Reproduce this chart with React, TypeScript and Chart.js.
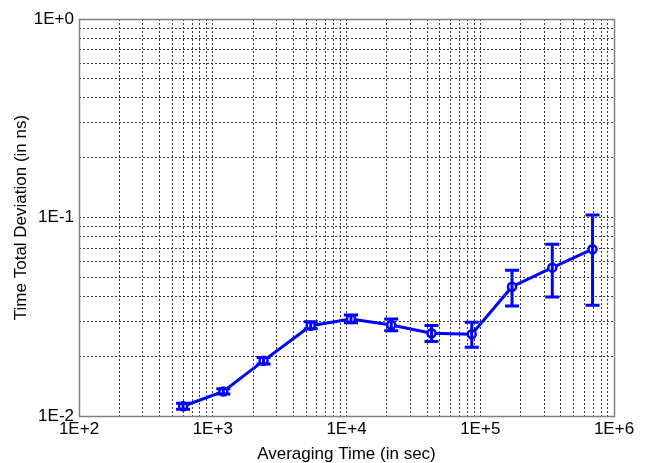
import React, { useEffect, useRef } from "react";
import { Chart, registerables } from "chart.js";

Chart.register(...registerables);

const tau = [600, 1200, 2400, 5400, 10800, 21600, 43200, 86400, 172800, 345600, 691200];
const tdev = [0.0112, 0.0133, 0.019, 0.0285, 0.0308, 0.02875, 0.0261, 0.0258, 0.0448, 0.0559, 0.0692];
const tdevHigh = [0.0116, 0.0137, 0.0197, 0.0298, 0.0323, 0.0308, 0.0286, 0.0297, 0.0542, 0.0733, 0.1029];
const tdevLow = [0.0108, 0.0129, 0.0183, 0.0275, 0.0295, 0.0269, 0.0237, 0.0222, 0.0358, 0.0398, 0.0361];

const xTickExps = [2, 3, 4, 5, 6];
const yTickExps = [-2, -1, 0];

const xTitle = "Averaging Time (in sec)";
const yTitle = "Time Total Deviation (in ns)";

const FONT = "'Liberation Sans', Arial, sans-serif";
const BLUE = "#0000ff";

function logTicks(exps: number[]) {
  const out: { value: number }[] = [];
  for (let i = 0; i < exps.length - 1; i++) {
    for (let m = 1; m <= 9; m++) {
      out.push({ value: parseFloat((m * Math.pow(10, exps[i])).toPrecision(6)) });
    }
  }
  out.push({ value: Math.pow(10, exps[exps.length - 1]) });
  return out;
}

function label(v: number) {
  const e = Math.log10(v);
  const r = Math.round(e);
  if (Math.abs(e - r) > 1e-9) return "";
  return "1E" + (r >= 0 ? "+" : "-") + Math.abs(r);
}

const errorBars = {
  id: "errorBars",
  afterDatasetsDraw(chart: any) {
    const ctx = chart.ctx;
    const xs = chart.scales.x;
    const ys = chart.scales.y;
    ctx.save();
    ctx.strokeStyle = BLUE;
    ctx.lineWidth = 3;
    const cap = 7;
    for (let i = 0; i < tau.length; i++) {
      const px = xs.getPixelForValue(tau[i]);
      const hi = ys.getPixelForValue(tdevHigh[i]);
      const lo = ys.getPixelForValue(tdevLow[i]);
      ctx.beginPath();
      ctx.moveTo(px, hi);
      ctx.lineTo(px, lo);
      ctx.moveTo(px - cap, hi);
      ctx.lineTo(px + cap, hi);
      ctx.moveTo(px - cap, lo);
      ctx.lineTo(px + cap, lo);
      ctx.stroke();
    }
    ctx.restore();
  },
};

const frame = {
  id: "frame",
  beforeDatasetsDraw(chart: any) {
    const { left, top, right, bottom } = chart.chartArea;
    const ctx = chart.ctx;
    ctx.save();
    ctx.strokeStyle = "#808080";
    ctx.lineWidth = 1.5;
    ctx.strokeRect(Math.round(left) + 0.5, Math.round(top) + 0.5, Math.round(right - left), Math.round(bottom - top));
    ctx.restore();
  },
};

export default function App() {
  const ref = useRef<HTMLCanvasElement | null>(null);
  useEffect(() => {
    if (!ref.current) return;
    const chart = new Chart(ref.current, {
      type: "line",
      data: {
        datasets: [
          {
            data: tau.map((t, i) => ({ x: t, y: tdev[i] })),
            borderColor: BLUE,
            borderWidth: 3,
            pointRadius: 4,
            pointBorderWidth: 2.5,
            pointBorderColor: BLUE,
            pointBackgroundColor: "#ffffff",
            fill: false,
            tension: 0,
          },
        ],
      },
      options: {
        responsive: false,
        animation: false,
        layout: { padding: { top: 19, right: 33, left: 0, bottom: 0 } },
        plugins: { legend: { display: false }, tooltip: { enabled: false } },
        scales: {
          x: {
            type: "logarithmic",
            min: 100,
            max: 1e6,
            afterBuildTicks: (s: any) => {
              s.ticks = logTicks(xTickExps);
            },
            afterFit: (s: any) => {
              s.height = 47;
            },
            ticks: {
              autoSkip: false,
              maxRotation: 0,
              padding: 3,
              color: "#000",
              font: { family: FONT, size: 17 },
              callback: (v: any) => label(Number(v)),
            },
            grid: {
              color: "#3a3a3a",
              lineWidth: 1,
              drawTicks: false,
            },
            border: { display: false, dash: [2, 2] },
            title: {
              display: true,
              text: xTitle,
              color: "#000",
              font: { family: FONT, size: 17, lineHeight: 1 },
              padding: { top: 0, bottom: 0 },
            },
          },
          y: {
            type: "logarithmic",
            min: 0.01,
            max: 1,
            afterBuildTicks: (s: any) => {
              s.ticks = logTicks(yTickExps);
            },
            afterFit: (s: any) => {
              s.width = 79;
            },
            ticks: {
              autoSkip: false,
              padding: 5,
              color: "#000",
              font: { family: FONT, size: 17 },
              callback: (v: any) => label(Number(v)),
            },
            grid: {
              color: "#3a3a3a",
              lineWidth: 1,
              drawTicks: false,
            },
            border: { display: false, dash: [2, 2] },
            title: {
              display: true,
              text: yTitle,
              color: "#000",
              font: { family: FONT, size: 17, lineHeight: 1 },
              padding: { top: 13, bottom: 0 },
            },
          },
        },
      },
      plugins: [frame, errorBars],
    } as any);
    return () => chart.destroy();
  }, []);
  return (
    <div style={{ position: "absolute", left: 0, top: 0, width: 647, height: 463, background: "#fff" }}>
      <canvas ref={ref} width={647} height={463} />
    </div>
  );
}
